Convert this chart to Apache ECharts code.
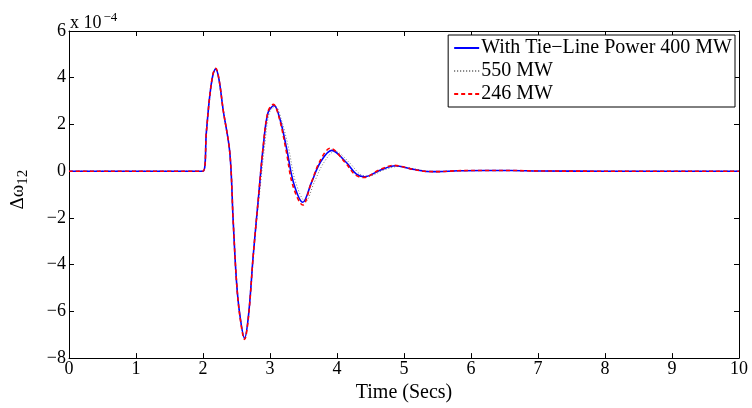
<!DOCTYPE html>
<html><head><meta charset="utf-8">
<script src="https://cdn.jsdelivr.net/npm/echarts@6/dist/echarts.min.js"></script>
<style>html,body{margin:0;padding:0;background:#fff}#c{width:752px;height:408px}</style>
</head><body><div id="c"></div>
<script>
// Values in units of 1e-4
var timeBlue = [0, 2.0, 2.05, 2.10, 2.15, 2.19, 2.24, 2.30, 2.40, 2.45, 2.50, 2.55, 2.62, 2.68, 2.75, 2.83, 2.90, 2.97, 3.06, 3.15, 3.25, 3.35, 3.49, 3.62, 3.75, 3.92, 4.14, 4.29, 4.41, 4.65, 4.87, 5.1, 5.3, 5.5, 5.8, 6.2, 6.6, 7.0, 8.0, 10];
var blue = [0, 0, 1.66, 3.2, 4.15, 4.38, 3.9, 2.64, 0.8, -2.1, -4.72, -6.15, -7.15, -6.15, -3.6, -1.05, 1.08, 2.5, 2.81, 2.21, 0.94, -0.48, -1.33, -0.48, 0.37, 0.89, 0.37, -0.13, -0.24, 0.05, 0.23, 0.1, 0.0, -0.02, 0.02, 0.03, 0.03, 0.01, 0, 0];
var timeDot = [0, 2.0, 2.05, 2.10, 2.15, 2.19, 2.24, 2.30, 2.40, 2.45, 2.50, 2.55, 2.62, 2.68, 2.75, 2.84, 2.92, 2.99, 3.08, 3.17, 3.28, 3.38, 3.53, 3.66, 3.80, 3.97, 4.19, 4.34, 4.46, 4.70, 4.92, 5.15, 5.35, 5.55, 5.85, 6.2, 6.6, 7.0, 8.0, 10];
var dotted = [0, 0, 1.66, 3.2, 4.15, 4.38, 3.9, 2.64, 0.8, -2.1, -4.72, -6.15, -7.15, -6.15, -3.6, -1.05, 1.08, 2.5, 2.78, 2.2, 0.95, -0.45, -1.3, -0.48, 0.35, 0.85, 0.35, -0.12, -0.22, 0.05, 0.2, 0.1, 0.0, -0.02, 0.02, 0.03, 0.03, 0.01, 0, 0];
var timeRed = [0, 2.0, 2.05, 2.10, 2.15, 2.19, 2.24, 2.30, 2.40, 2.45, 2.50, 2.55, 2.62, 2.68, 2.75, 2.83, 2.90, 2.97, 3.05, 3.14, 3.24, 3.34, 3.49, 3.61, 3.74, 3.90, 4.12, 4.27, 4.40, 4.63, 4.85, 5.1, 5.3, 5.5, 5.8, 6.2, 6.6, 7.0, 8.0, 10];
var red = [0, 0, 1.66, 3.2, 4.17, 4.4, 3.92, 2.64, 0.8, -2.1, -4.72, -6.2, -7.2, -6.2, -3.6, -1.05, 1.1, 2.55, 2.86, 2.25, 0.9, -0.6, -1.45, -0.55, 0.4, 0.98, 0.38, -0.15, -0.27, 0.05, 0.25, 0.1, 0.0, -0.02, 0.02, 0.03, 0.03, 0.01, 0, 0];
var xTicks = [0,1,2,3,4,5,6,7,8,9,10];
var yTicks = [-8,-6,-4,-2,0,2,4,6];
var legendNames = ['With Tie\u2212Line Power 400 MW', '550 MW', '246 MW'];

function zip(a, b) { return a.map(function (v, i) { return [v, b[i]]; }); }
var font = 'Liberation Serif';
var minus = function (v) { return String(v).replace('-', '\u2212'); };

var chart = echarts.init(document.getElementById('c'));
var baseX = {
  type: 'value', min: xTicks[0], max: xTicks[xTicks.length - 1], interval: 1,
  axisLine: { show: true, onZero: false, lineStyle: { color: '#000', width: 1 } },
  axisTick: { show: true, inside: true, length: 5, lineStyle: { color: '#000' } },
  splitLine: { show: false }
};
var baseY = {
  type: 'value', min: yTicks[0], max: yTicks[yTicks.length - 1], interval: 2,
  axisLine: { show: true, onZero: false, lineStyle: { color: '#000', width: 1 } },
  axisTick: { show: true, inside: true, length: 5, lineStyle: { color: '#000' } },
  splitLine: { show: false }
};
chart.setOption({
  animation: false,
  backgroundColor: '#fff',
  grid: { left: 69, right: 13, top: 31, bottom: 48, containLabel: false },
  xAxis: [
    Object.assign({}, baseX, {
      position: 'bottom',
      name: 'Time (Secs)', nameLocation: 'middle', nameGap: 22,
      nameTextStyle: { fontFamily: font, fontSize: 20, color: '#000' },
      axisLabel: { fontFamily: font, fontSize: 18, color: '#000', margin: 2 }
    }),
    Object.assign({}, baseX, { position: 'top', axisLabel: { show: false } })
  ],
  yAxis: [
    Object.assign({}, baseY, {
      position: 'left',
      name: '{a|\u0394\u03c9}{s|12}', nameLocation: 'middle', nameGap: 38, nameRotate: 90,
      nameTextStyle: { fontFamily: font, color: '#000', padding: [0, 0, 0, 10],
        rich: { a: { fontFamily: font, fontSize: 19, color: '#000' },
                s: { fontFamily: font, fontSize: 15, color: '#000', verticalAlign: 'bottom', padding: [10, 0, 0, 0] } } },
      axisLabel: { fontFamily: font, fontSize: 18, color: '#000', margin: 3, formatter: minus }
    }),
    Object.assign({}, baseY, { position: 'right', axisLabel: { show: false } })
  ],
  legend: {
    orient: 'vertical', right: 17, top: 35,
    backgroundColor: '#fff', borderColor: '#000', borderWidth: 1, borderRadius: 0,
    padding: [3, 3, 3, 5], itemGap: 3, itemWidth: 25, itemHeight: 14,
    itemStyle: { opacity: 0 },
    textStyle: { fontFamily: font, fontSize: 20, color: '#000', padding: [0, 0, 0, -3] },
    data: legendNames
  },
  graphic: [{
    type: 'text', left: 70, top: 11,
    style: { text: 'x 10{s|\u22124}', fontFamily: font, fontSize: 18, fill: '#000',
      rich: { s: { fontFamily: font, fontSize: 13, fill: '#000', verticalAlign: 'top', padding: [0, 0, 12, 2] } } }
  }],
  series: [
    { name: legendNames[0], type: 'line', data: zip(timeBlue, blue), smooth: 0.35, symbol: 'none',
      lineStyle: { color: '#0000ff', width: 1.6 }, itemStyle: { color: '#0000ff' }, z: 3 },
    { name: legendNames[1], type: 'line', data: zip(timeDot, dotted), smooth: 0.35, symbol: 'none',
      lineStyle: { color: '#777', width: 1, type: [1, 2] }, itemStyle: { color: '#777' }, z: 2 },
    { name: legendNames[2], type: 'line', data: zip(timeRed, red), smooth: 0.35, symbol: 'none',
      lineStyle: { color: '#ff0000', width: 1.6, type: [4, 3] }, itemStyle: { color: '#ff0000' }, z: 4 }
  ]
});
</script></body></html>
